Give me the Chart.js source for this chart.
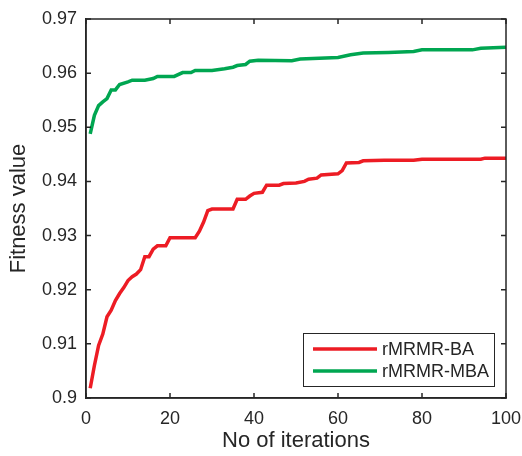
<!DOCTYPE html>
<html>
<head>
<meta charset="utf-8">
<script src="https://cdn.jsdelivr.net/npm/chart.js@4/dist/chart.umd.min.js"></script>
<style>
  html, body { margin: 0; padding: 0; background: #fff; }
  #wrap { width: 522px; height: 456px; }
</style>
</head>
<body>
<div id="wrap"><canvas id="grafico" width="522" height="456"></canvas></div>
<script>
// valores
const baIter = [1, 2, 3, 4, 5, 6, 7, 8, 9, 10, 11, 12, 13, 14, 15, 16, 17, 19, 20, 26, 27, 28, 29, 30, 35, 36, 38, 39, 40, 42, 43, 46, 47, 50, 52, 53, 55, 56, 60, 61, 62, 65, 66, 71, 78, 80, 94, 95, 100];
const baFitness = [0.9018, 0.9060, 0.9097, 0.9118, 0.9150, 0.9162, 0.9180, 0.9193, 0.9204, 0.9217, 0.9224, 0.9229, 0.9237, 0.9261, 0.9261, 0.9275, 0.9281, 0.9281, 0.9296, 0.9296, 0.9308, 0.9325, 0.9346, 0.9349, 0.9349, 0.9367, 0.9367, 0.9373, 0.9378, 0.9380, 0.9393, 0.9393, 0.9396, 0.9397, 0.9400, 0.9404, 0.9406, 0.9412, 0.9414, 0.9420, 0.9434, 0.9435, 0.9438, 0.9439, 0.9439, 0.9441, 0.9441, 0.9443, 0.9443];

const mbaIter = [1, 2, 3, 4, 5, 6, 7, 8, 10, 11, 14, 16, 17, 21, 23, 25, 26, 30, 33, 35, 36, 38, 39, 41, 49, 51, 60, 63, 66, 72, 78, 80, 92, 94, 100];
const mbaFitness = [0.9488, 0.9522, 0.9540, 0.9547, 0.9553, 0.9569, 0.9569, 0.9579, 0.9584, 0.9587, 0.9587, 0.9590, 0.9594, 0.9594, 0.9601, 0.9601, 0.9605, 0.9605, 0.9608, 0.9611, 0.9614, 0.9616, 0.9622, 0.9624, 0.9623, 0.9626, 0.9629, 0.9634, 0.9637, 0.9638, 0.9640, 0.9643, 0.9643, 0.9646, 0.9648];

const seriesNames = ['rMRMR-BA', 'rMRMR-MBA'];
const xTicks = [0, 20, 40, 60, 80, 100];
const xTickLabels = ['0', '20', '40', '60', '80', '100'];
const yTicks = [0.9, 0.91, 0.92, 0.93, 0.94, 0.95, 0.96, 0.97];
const yTickLabels = ['0.9', '0.91', '0.92', '0.93', '0.94', '0.95', '0.96', '0.97'];

const ink = '#262626';
const fuente = 'Arial, "Liberation Sans", sans-serif';

function puntos(xs, ys) {
    return xs.map((x, i) => ({ x: x, y: ys[i] }));
}

// marcas hacia dentro, caja y leyenda estilo MATLAB
const cajaMatlab = {
    id: 'cajaMatlab',
    afterDraw(chart) {
        const ctx = chart.ctx;
        const a = chart.chartArea;
        const sx = chart.scales.x;
        const sy = chart.scales.y;
        const tl = 5;
        ctx.save();
        ctx.strokeStyle = ink;
        ctx.lineWidth = 1.5;
        ctx.strokeRect(a.left, a.top, a.right - a.left, a.bottom - a.top);
        ctx.beginPath();
        xTicks.forEach(v => {
            const px = sx.getPixelForValue(v);
            ctx.moveTo(px, a.bottom); ctx.lineTo(px, a.bottom - tl);
            ctx.moveTo(px, a.top); ctx.lineTo(px, a.top + tl);
        });
        yTicks.forEach(v => {
            const py = sy.getPixelForValue(v);
            ctx.moveTo(a.left, py); ctx.lineTo(a.left + tl, py);
            ctx.moveTo(a.right, py); ctx.lineTo(a.right - tl, py);
        });
        ctx.stroke();

        // leyenda
        const bx = 303, by = 333, bw = 191, bh = 53;
        ctx.fillStyle = '#fff';
        ctx.fillRect(bx, by, bw, bh);
        ctx.lineWidth = 1;
        ctx.strokeStyle = ink;
        ctx.strokeRect(bx + 0.5, by + 0.5, bw, bh);
        ctx.font = '18px ' + fuente;
        ctx.textBaseline = 'middle';
        ctx.textAlign = 'left';
        chart.data.datasets.forEach((ds, i) => {
            const y = by + 16 + i * 22;
            ctx.strokeStyle = ds.borderColor;
            ctx.lineWidth = ds.borderWidth;
            ctx.beginPath();
            ctx.moveTo(bx + 10, y);
            ctx.lineTo(bx + 74, y);
            ctx.stroke();
            ctx.fillStyle = ink;
            ctx.fillText(ds.label, bx + 79, y + 1);
        });
        ctx.restore();
    }
};

const chart = new Chart(document.getElementById('grafico'), {
    type: 'line',
    data: {
        datasets: [
            {
                label: seriesNames[0],
                data: puntos(baIter, baFitness),
                borderColor: '#ed1c24',
                borderWidth: 3.5,
                pointRadius: 0,
                tension: 0,
                fill: false
            },
            {
                label: seriesNames[1],
                data: puntos(mbaIter, mbaFitness),
                borderColor: '#00a651',
                borderWidth: 3.5,
                pointRadius: 0,
                tension: 0,
                fill: false
            }
        ]
    },
    plugins: [cajaMatlab],
    options: {
        responsive: false,
        animation: false,
        layout: { padding: { top: 19, right: 16, left: 0, bottom: 0 } },
        plugins: {
            legend: { display: false },
            tooltip: { enabled: false }
        },
        scales: {
            x: {
                type: 'linear',
                min: 0,
                max: 100,
                afterBuildTicks: s => { s.ticks = xTicks.map(v => ({ value: v })); },
                afterFit: s => { s.height = 58; s.paddingRight = 0; s.paddingLeft = 0; },
                grid: { display: false, drawTicks: false },
                border: { display: true, color: ink, width: 1.5 },
                ticks: {
                    padding: 10,
                    color: ink,
                    font: { family: fuente, size: 18 },
                    maxRotation: 0,
                    callback: (v, i) => xTickLabels[i]
                },
                title: {
                    display: true,
                    text: 'No of iterations',
                    color: ink,
                    font: { family: fuente, size: 22 },
                    padding: { top: 0, bottom: 2 }
                }
            },
            y: {
                type: 'linear',
                min: 0.9,
                max: 0.97,
                afterBuildTicks: s => { s.ticks = yTicks.map(v => ({ value: v })); },
                afterFit: s => { s.width = 86; s.paddingTop = 0; s.paddingBottom = 0; },
                grid: { display: false, drawTicks: false },
                border: { display: true, color: ink, width: 1.5 },
                ticks: {
                    padding: 9,
                    color: ink,
                    font: { family: fuente, size: 18 },
                    callback: (v, i) => yTickLabels[i]
                },
                title: {
                    display: true,
                    text: 'Fitness value',
                    color: ink,
                    font: { family: fuente, size: 22 },
                    padding: { top: 6, bottom: 0 }
                }
            }
        }
    }
});
</script>
</body>
</html>
